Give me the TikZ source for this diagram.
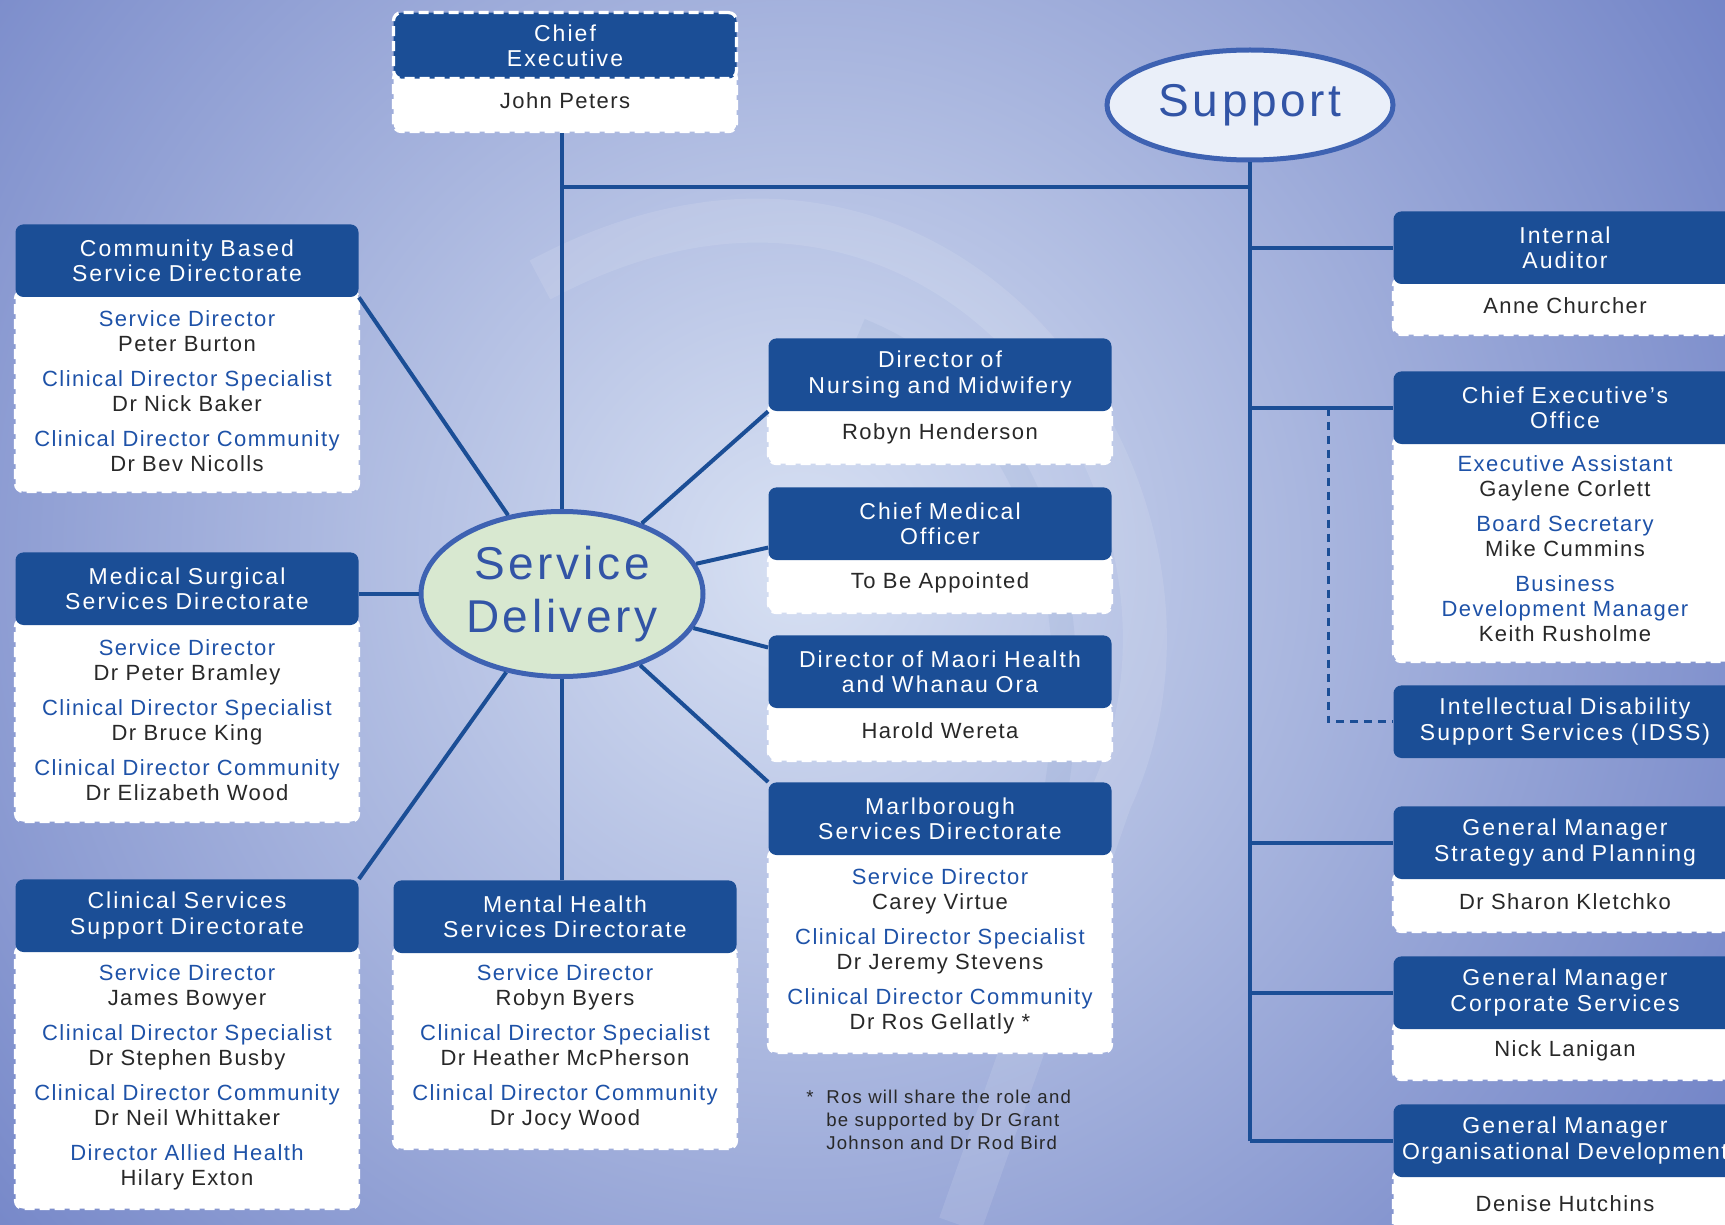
\documentclass[tikz,border=0pt]{standalone}
\usepackage{fontspec}
\setmainfont{Liberation Sans}
\newfontfamily\hdrfont[LetterSpace=9]{Liberation Sans}
\newfontfamily\boxfont[LetterSpace=6.5]{Liberation Sans}
\newfontfamily\hubfont[LetterSpace=8]{Liberation Sans}
\usetikzlibrary{shapes.geometric,calc}

\definecolor{hdrc}{RGB}{27,78,150}
\definecolor{rolec}{RGB}{30,82,168}
\definecolor{namec}{RGB}{40,40,40}
\definecolor{ringc}{RGB}{62,98,178}
\definecolor{hubtc}{RGB}{50,84,166}
\definecolor{bgin}{RGB}{216,225,243}
\definecolor{bgout}{RGB}{112,130,198}

\newcommand{\rolet}[1]{\textcolor{rolec}{#1}}

\tikzset{
	hdr/.style={fill=hdrc, text=white, rounded corners=4pt, anchor=north, inner sep=0pt,
		minimum width=171.5pt, minimum height=36.3pt, text width=168pt, align=center,
		font=\hdrfont\fontsize{11.5}{12.7}\selectfont},
	bdy/.style={fill=white, draw=white, line width=1.6pt, dash pattern=on 5pt off 2.5pt,
		rounded corners=4pt, anchor=north, inner sep=0pt, minimum width=171.5pt,
		text width=168pt, align=center, text=namec, font=\boxfont\fontsize{11}{12.5}\selectfont},
	conn/.style={draw=hdrc, line width=2pt},
	dconn/.style={draw=hdrc, line width=1.5pt, dash pattern=on 4pt off 3pt},
	hub/.style={ellipse, draw=ringc, line width=2.5pt, inner sep=0pt, align=center,
		text=hubtc, font=\hubfont\fontsize{23}{26.5}\selectfont}
}

\begin{document}
\begin{tikzpicture}[x=0.5pt, y=-0.5pt]

		\useasboundingbox (0,0) rectangle (1725,1225);
		\clip (0,0) rectangle (1725,1225);
		\shade[inner color=bgin, outer color=bgout] (800,560) circle [radius=560pt];
		\draw[white, opacity=0.11, line width=22pt] (540,280) .. controls (950,60) and (1250,500) .. (1110,800) .. controls (1040,1000) .. (960,1225);
		\draw[hdrc, opacity=0.05, line width=12pt] (860,330) .. controls (1080,420) and (1110,700) .. (1010,960);

		\node[bdy, minimum height=30.5pt]  (b0)  at ( 565,  69) {John Peters};
		\node[bdy, minimum height=100.5pt] (b1)  at ( 187, 289) {\rolet{Service Director}\\Peter Burton\\[5pt]\rolet{Clinical Director Specialist}\\Dr Nick Baker\\[5pt]\rolet{Clinical Director Community}\\Dr Bev Nicolls};
		\node[bdy, minimum height=101.5pt] (b2)  at ( 187, 617) {\rolet{Service Director}\\Dr Peter Bramley\\[5pt]\rolet{Clinical Director Specialist}\\Dr Bruce King\\[5pt]\rolet{Clinical Director Community}\\Dr Elizabeth Wood};
		\node[bdy, minimum height=131.5pt] (b3)  at ( 187, 944) {\rolet{Service Director}\\James Bowyer\\[5pt]\rolet{Clinical Director Specialist}\\Dr Stephen Busby\\[5pt]\rolet{Clinical Director Community}\\Dr Neil Whittaker\\[5pt]\rolet{Director Allied Health}\\Hilary Exton};
		\node[bdy, minimum height=101pt]   (b4)  at ( 565, 945) {\rolet{Service Director}\\Robyn Byers\\[5pt]\rolet{Clinical Director Specialist}\\Dr Heather McPherson\\[5pt]\rolet{Clinical Director Community}\\Dr Jocy Wood};
		\node[bdy, minimum height=30pt]    (b5)  at ( 940, 402) {Robyn Henderson};
		\node[bdy, minimum height=29.5pt]  (b6)  at ( 940, 552) {To Be Appointed};
		\node[bdy, minimum height=29.5pt]  (b7)  at ( 940, 700) {Harold Wereta};
		\node[bdy, minimum height=101.5pt] (b8)  at ( 940, 848) {\rolet{Service Director}\\Carey Virtue\\[5pt]\rolet{Clinical Director Specialist}\\Dr Jeremy Stevens\\[5pt]\rolet{Clinical Director Community}\\Dr Ros Gellatly *};
		\node[bdy, minimum height=28.5pt]  (b9)  at (1565, 276) {Anne Churcher};
		\node[bdy, minimum height=112.5pt] (b10) at (1565, 435) {\rolet{Executive Assistant}\\Gaylene Corlett\\[5pt]\rolet{Board Secretary}\\Mike Cummins\\[5pt]\rolet{Business}\\\rolet{Development Manager}\\Keith Rusholme};
		\node[bdy, minimum height=29.5pt]  (b12) at (1565, 871) {Dr Sharon Kletchko};
		\node[bdy, minimum height=29pt]    (b13) at (1565,1020) {Nick Lanigan};
		\node[bdy, minimum height=33pt]    (b14) at (1565,1169) {Denise Hutchins};

		\node[hdr, minimum height=33pt, draw=white, line width=1.6pt, dash pattern=on 5pt off 2.5pt] (h0) at ( 565,  11) {Chief\\Executive};
		\node[hdr] (h1)  at ( 187, 224) {Community Based\\Service Directorate};
		\node[hdr] (h2)  at ( 187, 552) {Medical Surgical\\Services Directorate};
		\node[hdr] (h3)  at ( 187, 879) {Clinical Services\\Support Directorate};
		\node[hdr] (h4)  at ( 565, 880) {Mental Health\\Services Directorate};
		\node[hdr] (h5)  at ( 940, 338) {Director of\\Nursing and Midwifery};
		\node[hdr] (h6)  at ( 940, 487) {Chief Medical\\Officer};
		\node[hdr] (h7)  at ( 940, 635) {Director of Maori Health\\and Whanau Ora};
		\node[hdr] (h8)  at ( 940, 782) {Marlborough\\Services Directorate};
		\node[hdr] (h9)  at (1565, 211) {Internal\\Auditor};
		\node[hdr] (h10) at (1565, 371) {Chief Executive’s\\Office};
		\node[hdr] (h11) at (1565, 685) {Intellectual Disability\\Support Services (IDSS)};
		\node[hdr] (h12) at (1565, 806) {General Manager\\Strategy and Planning};
		\node[hdr] (h13) at (1565, 956) {General Manager\\Corporate Services};
		\node[hdr] (h14) at (1565,1104) {General Manager\\{\boxfont Organisational Development}};

		\node[hub, fill={rgb,255:red,216;green,232;blue,208}, minimum width=141pt, minimum height=82.5pt] (sd) at ( 562, 594) {Service\\Delivery};
		\node[hub, fill={rgb,255:red,234;green,239;blue,249}, minimum width=143pt, minimum height=55pt] (sp) at (1250, 105) {Support};

		\node[anchor=north west, inner sep=0pt, align=left, text=namec, font=\boxfont\fontsize{9.3}{11.4}\selectfont] (fn) at (806,1090) {*\ \ Ros will share the role and\\\phantom{*\ \ }be supported by Dr Grant\\\phantom{*\ \ }Johnson and Dr Rod Bird};

		\coordinate (j1) at (562,187);

		\draw[conn] (b0.south -| sd) -- (sd);
		\draw[conn] (j1) -| (sp.south);
		\draw[conn] (sp.south) -- (sp.south |- h14.west);

		\draw[conn] (sd) -- (h1.south east);
		\draw[conn] (sd) -- (sd -| h2.east);
		\draw[conn] (sd) -- (h3.north east);
		\draw[conn] (sd) -- (sd |- h4.north);
		\draw[conn] (sd) -- (h5.south west);
		\draw[conn] (sd) -- ($(h6.west)!0.65!(h6.south west)$);
		\draw[conn] (sd) -- ($(h7.north west)!0.17!(h7.south west)$);
		\draw[conn] (sd) -- (h8.north west);

		\draw[conn] (sp.south |- h9.west) -- (h9.west);
		\draw[conn] (sp.south |- h10.west) -- (h10.west);
		\draw[conn] (sp.south |- h12.west) -- (h12.west);
		\draw[conn] (sp.south |- h13.west) -- (h13.west);
		\draw[conn] (sp.south |- h14.west) -- (h14.west);
		\draw[dconn] ($(sp.south |- h10.west)!0.545!(h10.west)$) |- (h11.west);

\end{tikzpicture}
\end{document}
